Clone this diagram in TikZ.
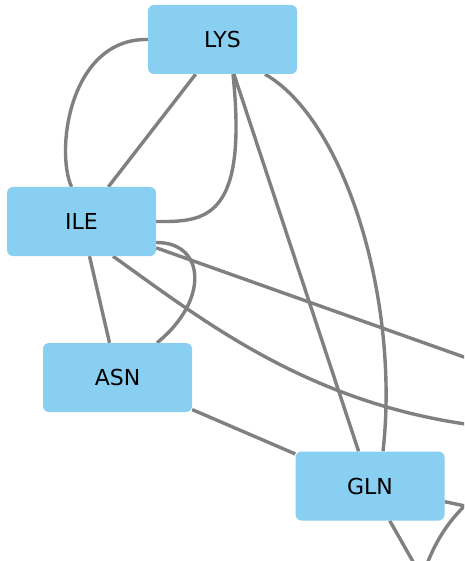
\documentclass[tikz,border=0pt]{standalone}
\usepackage{fontspec}
\setmainfont{DejaVu Sans}
\usetikzlibrary{backgrounds}
\definecolor{boxblue}{RGB}{137,207,242}
\definecolor{edgegray}{RGB}{128,128,128}
\begin{document}
\begin{tikzpicture}[x=1pt,y=-1pt,
  residue/.style={draw=none, fill=boxblue, rounded corners=6pt,
    minimum width=149pt, minimum height=69pt, inner sep=0pt,
    font=\fontsize{22}{26}\selectfont, text=black},
  link/.style={draw=edgegray, line width=3.4pt}]
\useasboundingbox (0,0) rectangle (464,561);

% residues
\node[residue] (LYS) at (222.5,39.5) {LYS};
\node[residue] (ILE) at (81.5,221.5) {ILE};
\node[residue] (ASN) at (117.5,377.5) {ASN};
\node[residue] (GLN) at (370,486) {GLN};

% partners lying outside the frame
\coordinate (offA) at (540,384);
\coordinate (offB) at (480,426);
\coordinate (offC) at (440,609);
\coordinate (offD) at (560,526);
\coordinate (offE) at (424,572);
\coordinate (offF) at (478,494);

\begin{scope}[on background layer]
  \fill[white] (0,0) rectangle (464,561);
  \clip (0,0) rectangle (464,561);
  \draw[link] (LYS.west) .. controls (70,38) and (55,150) .. ([xshift=-10pt]ILE.north);
  \draw[link] (LYS) -- (ILE);
  \draw[link] ([xshift=10.5pt]LYS.south) .. controls (248,220) and (205,222) .. (ILE.east);
  \draw[link] (LYS) -- (GLN);
  \draw[link] ([xshift=42.5pt]LYS.south) .. controls (345,120) and (400,300) .. ([xshift=13pt]GLN.north);
  \draw[link] ([yshift=-21pt]ILE.east) .. controls (205,242) and (210,300) .. ([xshift=39.5pt]ASN.north);
  \draw[link] (ILE) -- (ASN);
  \draw[link] (ILE) -- (offA);
  \draw[link] ([xshift=31.5pt]ILE.south) .. controls (205,322) and (310,405) .. (offB);
  \draw[link] (ASN) -- (GLN);
  \draw[link] (GLN) -- (offC);
  \draw[link] (GLN) -- (offD);
  \draw[link] (offE) .. controls (436,538) and (452,515) .. (offF);
\end{scope}
\end{tikzpicture}
\end{document}
